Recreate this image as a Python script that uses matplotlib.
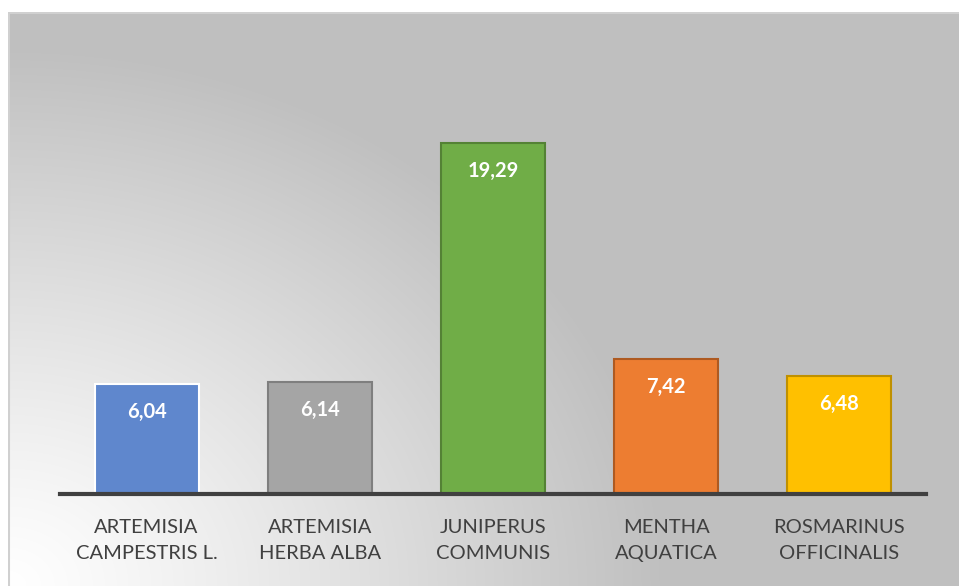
import numpy as np
from matplotlib import pyplot as plt
from matplotlib import transforms

# Valores do gráfico
categorias = ['ARTEMISIA\nCAMPESTRIS L.', 'ARTEMISIA\nHERBA ALBA', 'JUNIPERUS\nCOMMUNIS',
              'MENTHA\nAQUATICA', 'ROSMARINUS\nOFFICINALIS']
valores = [6.04, 6.14, 19.29, 7.42, 6.48]
cores = ['#5F87CD', '#A5A5A5', '#70AD47', '#ED7D31', '#FFC000']
bordas = ['#FFFFFF', '#7F7F7F', '#548235', '#AE5A21', '#BF9000']

plt.rcParams['font.family'] = ['Lato', 'DejaVu Sans']

fig = plt.figure(figsize=(9.59, 5.86), dpi=100)

# Fundo com gradiente radial a partir do canto inferior esquerdo
bg = fig.add_axes([8 / 959, 0, 951 / 959, 574 / 586])
h, w = 574, 951
yy, xx = np.mgrid[0:h, 0:w]
d = np.sqrt(((xx - 0) / 660.0) ** 2 + ((yy - (h - 1)) / 540.0) ** 2)
t = np.clip(d, 0, 1) ** 1.15
cinza = 255 - t * (255 - 191)
img = np.dstack([cinza, cinza, cinza]) / 255.0
bg.imshow(img, aspect='auto', interpolation='bilinear')
bg.set_axis_off()
# borda fina do fundo
bg.plot([0, 0], [0, h - 1], color='#D0D0D0', lw=1.5)
bg.plot([0, w - 1], [0, 0], color='#D0D0D0', lw=1.5)
bg.set_xlim(-0.5, w - 0.5)
bg.set_ylim(h - 0.5, -0.5)

# Eixo principal
ax = fig.add_axes([60 / 959, 92 / 586, 866 / 959, 455 / 586])
ax.patch.set_alpha(0)
x = np.arange(len(valores))
barras = ax.bar(x, valores, width=0.6, color=cores, edgecolor=bordas, linewidth=1.5, zorder=2)

for xi, v in zip(x, valores):
    ax.annotate(f'{v:.2f}'.replace('.', ','), (xi, v), xytext=(0, -20),
                textcoords='offset points', ha='center', va='center',
                color='white', fontsize=14.5, fontweight='bold', zorder=3)

# Rótulos das categorias, em duas linhas, abaixo do eixo
trans = transforms.blended_transform_factory(ax.transData, ax.transAxes)
for xi, cat in zip(x, categorias):
    l1, l2 = cat.split('\n')
    ax.annotate(l1, (xi, 0), xycoords=trans, xytext=(0, -24), textcoords='offset points',
                ha='center', va='center', fontsize=14.5, color='#404040')
    ax.annotate(l2, (xi, 0), xycoords=trans, xytext=(0, -42.5), textcoords='offset points',
                ha='center', va='center', fontsize=14.5, color='#404040')

ax.set_xlim(-0.5, 4.5)
ax.set_ylim(0, 25)
ax.set_yticks([])
ax.set_xticks([])
for s in ['top', 'left', 'right']:
    ax.spines[s].set_visible(False)
ax.spines['bottom'].set_color('#404040')
ax.spines['bottom'].set_linewidth(3)
ax.spines['bottom'].set_zorder(4)

fig.savefig('out.png', dpi=100)
